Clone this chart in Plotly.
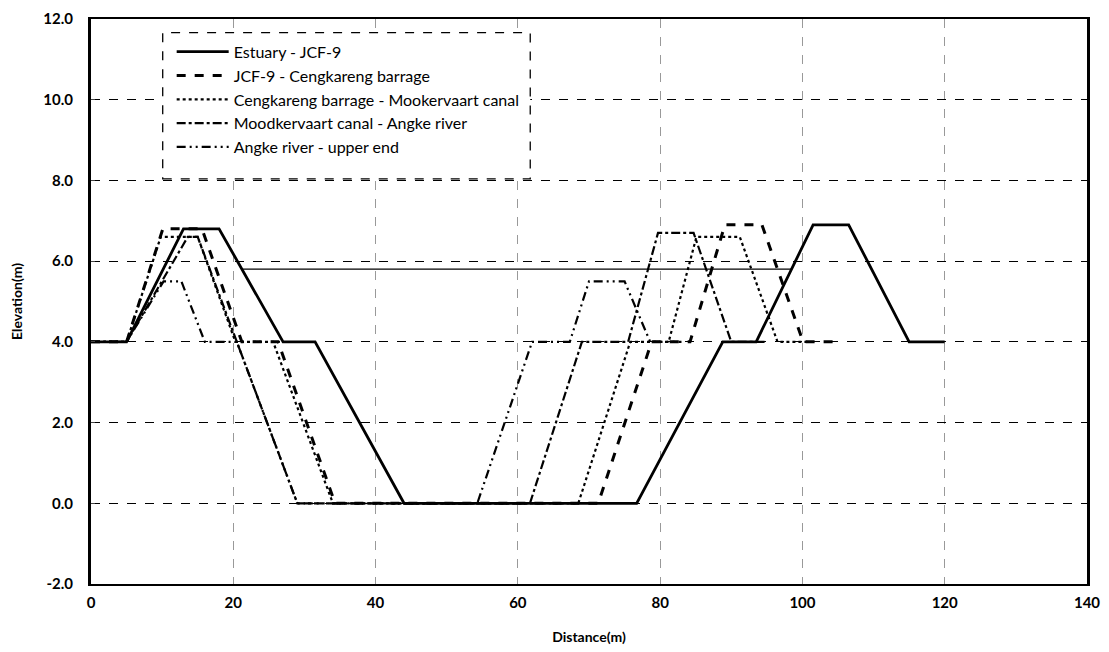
import plotly.graph_objects as go

# ---- data ----
estuary_x = [0, 5, 13, 18, 27, 31.5, 44, 76.7, 88.8, 93.5, 101.5, 106.5, 115, 120]
estuary_y = [4, 4, 6.8, 6.8, 4, 4, 0, 0, 4, 4, 6.9, 6.9, 4, 4]

water_x = [21.2, 98.5]
water_y = [5.8, 5.8]

jcf_x = [0, 5, 10.1, 15.6, 21.2, 26.3, 34.3, 71.3, 78.8, 84.2, 89.1, 94.3, 100.1, 105]
jcf_y = [4, 4, 6.8, 6.8, 4, 4, 0, 0, 4, 4, 6.9, 6.9, 4, 4]

ceng_x = [0, 5, 9.8, 15, 20.3, 25.6, 34, 68.5, 75.8, 81.2, 85.1, 91.2, 96.5, 101]
ceng_y = [4, 4, 6.6, 6.6, 4, 4, 0, 0, 4, 4, 6.6, 6.6, 4, 4]

mood_x = [0, 5, 13.6, 15, 20.5, 29, 61.7, 69, 75.5, 79.7, 84.7, 90, 95]
mood_y = [4, 4, 6.6, 6.6, 4, 0, 0, 4, 4, 6.7, 6.7, 4, 4]

angke_x = [0, 5, 10.2, 12.7, 16, 20.5, 29, 54.3, 62, 67.3, 70, 75, 78.6, 83]
angke_y = [4, 4, 5.5, 5.5, 4, 4, 0, 0, 4, 4, 5.5, 5.5, 4, 4]

names = [
    "Estuary - JCF-9",
    "JCF-9 - Cengkareng barrage",
    "Cengkareng barrage - Mookervaart canal",
    "Moodkervaart canal - Angke river",
    "Angke river - upper end",
]

x_ticks = [0, 20, 40, 60, 80, 100, 120, 140]
y_ticks = [-2, 0, 2, 4, 6, 8, 10, 12]

FONT = "Lato"

fig = go.Figure()
series = [
    (estuary_x, estuary_y, dict(color="black", width=2.8, dash="solid")),
    (jcf_x, jcf_y, dict(color="black", width=3, dash="dash")),
    (ceng_x, ceng_y, dict(color="black", width=2.2, dash="dot")),
    (mood_x, mood_y, dict(color="black", width=2.2, dash="dashdot")),
    (angke_x, angke_y, dict(color="black", width=2.2, dash="9px,4px,2px,4px,2px,4px")),
]
for i, (xs, ys, ln) in enumerate(series):
    fig.add_trace(go.Scatter(x=xs, y=ys, mode="lines", name=names[i], line=ln,
                             legendgroup=f"g{i}"))

fig.add_trace(go.Scatter(x=water_x, y=water_y, mode="lines", showlegend=False,
                         line=dict(color="black", width=1.2)))

# page body adds 8px margin: compensate so plot area lands on the reference pixels
fig.update_layout(
    width=1101, height=644,
    margin=dict(l=83, r=22, t=11, b=68),
    paper_bgcolor="white", plot_bgcolor="white",
    font=dict(family=FONT, size=15, color="black"),
    legend=dict(
        x=0.081, y=0.972, xanchor="left", yanchor="top",
        bgcolor="white", borderwidth=0,
        font=dict(family=FONT, size=16), tracegroupgap=0, itemwidth=52,
    ),
)

fig.update_xaxes(
    range=[0, 140], tickvals=x_ticks, ticktext=[str(v) for v in x_ticks],
    showgrid=True, gridcolor="rgba(0,0,0,0.4)", griddash="dash", gridwidth=1,
    showline=True, linecolor="black", linewidth=2, mirror=True,
    zeroline=False, ticks="", ticklabelstandoff=4, automargin=False,
    tickfont=dict(size=15, family=FONT, weight="bold"),
    title=dict(text="Distance(m)", font=dict(size=14, family=FONT, weight="bold"), standoff=22),
)
fig.update_yaxes(
    range=[-2, 12], tickvals=y_ticks, ticktext=[f"{v:.1f}" for v in y_ticks],
    showgrid=True, gridcolor="black", griddash="dash", gridwidth=1,
    showline=True, linecolor="black", linewidth=3, mirror=True,
    zeroline=False, ticks="inside", ticklen=4, ticklabelstandoff=12, automargin=False,
    tickfont=dict(size=15, family=FONT, weight="bold"),
    title=dict(text="Elevation(m)", font=dict(size=14, family=FONT, weight="bold"), standoff=22),
)

# white, dashed-bordered frame behind the legend
fig.add_shape(type="rect", xref="paper", yref="paper",
              x0=0.072, x1=0.441, y0=0.717, y1=0.976, layer="above",
              fillcolor="white",
              line=dict(color="black", width=1.3, dash="dash"))

fig.write_html("out.html")
